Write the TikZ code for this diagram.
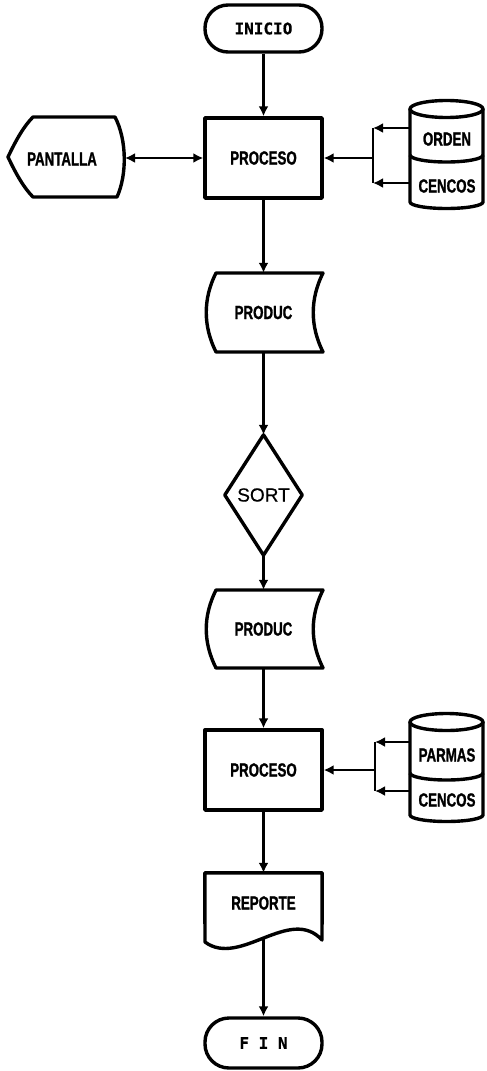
\documentclass[tikz,border=0pt]{standalone}
\usepackage{fontspec}
\usetikzlibrary{arrows.meta}
\newfontfamily\lbl{Liberation Sans}[FakeStretch=0.7,FakeBold=1.2]
\newfontfamily\monof{DejaVu Sans Mono}[FakeBold=0.6]
\newfontfamily\plainf{Liberation Sans}[FakeBold=0.5]
\begin{document}
\begin{tikzpicture}[x=1pt,y=-1pt,
  shapeline/.style={line width=3.4pt, line join=round},
  conn/.style={line width=2.8pt},
  arr/.style={conn, -{Latex[length=10pt,width=10pt]}},
  darr/.style={conn, {Latex[length=10pt,width=10pt]}-{Latex[length=10pt,width=10pt]}},
  lab/.style={font=\lbl\bfseries\fontsize{19}{19}\selectfont, inner sep=0pt},
  term/.style={shapeline, draw, rounded corners=23pt, minimum width=117pt, minimum height=47pt, inner sep=0pt, font=\monof\bfseries\fontsize{16}{16}\selectfont},
  proc/.style={shapeline, draw, minimum width=117pt, minimum height=80pt, lab},
  ghost/.style={minimum width=117pt, minimum height=79pt, lab},
]
\useasboundingbox (0,0) rectangle (487,1071);

% main column nodes
\node[term] (inicio) at (263.5,28.5) {INICIO};
\node[proc] (p1) at (263.5,158) {PROCESO};
\node[ghost] (prod1) at (263.5,312.5) {PRODUC};
\node[ghost, minimum width=77pt, minimum height=120pt, font=\plainf\fontsize{19}{19}\selectfont] (sort) at (263.5,495) {SORT};
\node[ghost, minimum height=78pt] (prod2) at (263.5,629) {PRODUC};
\node[proc] (p2) at (263.5,770) {PROCESO};
\node[ghost, minimum height=60pt] (rep) at (263.5,903) {REPORTE};
\node[term, minimum height=50pt, rounded corners=24pt] (fin) at (263.5,1043) {F I N};

% stored data outlines
\draw[shapeline] (216,273) -- (323,273) .. controls (310,299) and (310,326) .. (323,352)
  -- (216,352) .. controls (203,326) and (203,299) .. (216,273) -- cycle;
\draw[shapeline] (216,590) -- (323,590) .. controls (310,616) and (310,642) .. (323,668)
  -- (216,668) .. controls (203,642) and (203,616) .. (216,590) -- cycle;

% diamond
\draw[shapeline] (sort.north) -- (sort.east) -- (sort.south) -- (sort.west) -- cycle;

% document
\draw[shapeline] (rep.north west) -- (rep.north east) -- (322,940)
  .. controls (290,905) and (240,968) .. (205,942) -- cycle;
\coordinate (repb) at (263.5,938);

% display PANTALLA
\node[lab] (pant) at (62,159) {PANTALLA};
\draw[shapeline] (8,157) .. controls (16,140) and (24,126) .. (33,117) -- (115,117)
  .. controls (127,140) and (127,175) .. (117,197) -- (33,197)
  .. controls (24,188) and (16,174) .. (8,157) -- cycle;
\coordinate (pantR) at (125,158);

% cylinders 1
\draw[shapeline] (446.5,109) ellipse[x radius=36.5pt, y radius=8.5pt];
\draw[shapeline] (410,109) -- (410,202) arc[start angle=180,end angle=360,x radius=36.5pt,y radius=6.5pt] -- (483,109);
\draw[shapeline] (410,155) arc[start angle=180,end angle=360,x radius=36.5pt,y radius=7pt];
\node[lab] (orden) at (447,139) {ORDEN};
\node[lab] (cen1) at (447,186) {CENCOS};

% cylinders 2
\draw[shapeline] (446.5,722) ellipse[x radius=36.5pt, y radius=8.5pt];
\draw[shapeline] (410,722) -- (410,815) arc[start angle=180,end angle=360,x radius=36.5pt,y radius=6.5pt] -- (483,722);
\draw[shapeline] (410,773) arc[start angle=180,end angle=360,x radius=36.5pt,y radius=7pt];
\node[lab] (parm) at (447,755) {PARMAS};
\node[lab] (cen2) at (447,800) {CENCOS};

% main flow
\draw[arr] (inicio.south) -- (p1.north);
\draw[arr] (p1.south) -- (prod1.north);
\draw[arr] (prod1.south) -- (sort.north);
\draw[arr] (sort.south) -- (prod2.north);
\draw[arr] (prod2.south) -- (p2.north);
\draw[arr] (p2.south) -- (rep.north);
\draw[arr] (repb) -- (fin.north);

% pantalla link
\draw[darr] (pantR) -- (p1.west);

% bracket 1
\coordinate (o1) at (410,128); \coordinate (b1t) at (373,128);
\coordinate (c1) at (410,183); \coordinate (b1b) at (373,183);
\coordinate (b1m) at (373,158);
\draw[arr] (o1) -- (b1t);
\draw[arr] (c1) -- (b1b);
\draw[conn] (b1t) -- (b1b);
\draw[arr] (b1m) -- (p1.east);

% bracket 2
\coordinate (o2) at (410,742); \coordinate (b2t) at (375,742);
\coordinate (c2) at (410,791); \coordinate (b2b) at (375,791);
\coordinate (b2m) at (375,770);
\draw[arr] (o2) -- (b2t);
\draw[arr] (c2) -- (b2b);
\draw[conn] (b2t) -- (b2b);
\draw[arr] (b2m) -- (p2.east);
\end{tikzpicture}
\end{document}
